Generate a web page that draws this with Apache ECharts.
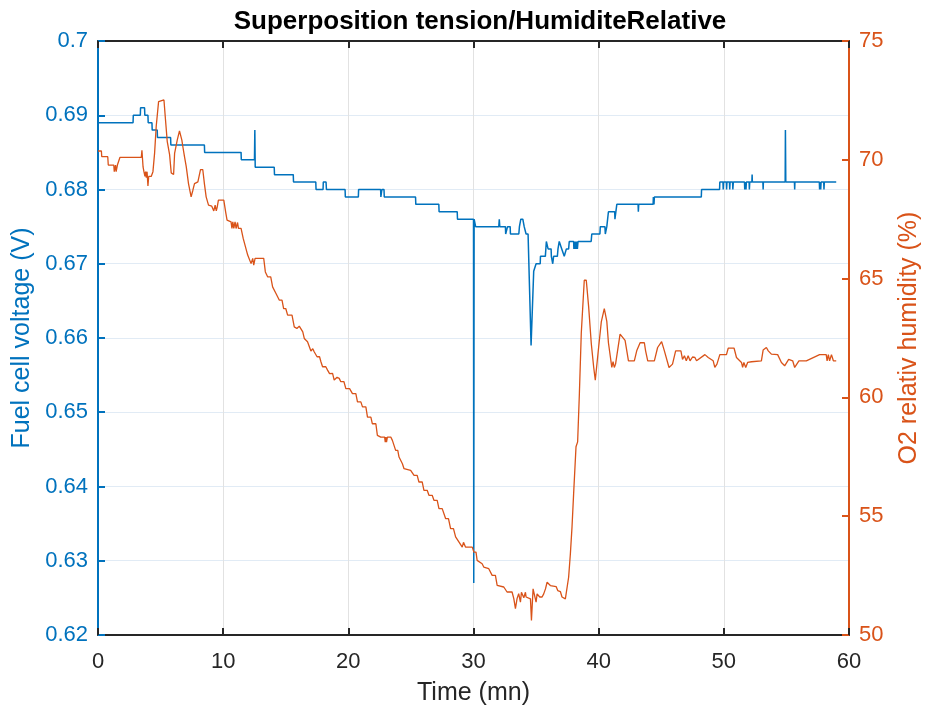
<!DOCTYPE html>
<html>
<head>
<meta charset="utf-8">
<script src="https://cdn.jsdelivr.net/npm/echarts@6/dist/echarts.min.js"></script>
<style>
html,body{margin:0;padding:0;background:#fff;}
#chart{width:930px;height:711px;}
</style>
</head>
<body>
<div id="chart"></div>
<script>
// ---- Data ----
const chartTitle = 'Superposition tension/HumiditeRelative';
const xAxisName = 'Time (mn)';
const leftAxisName = 'Fuel cell voltage (V)';
const rightAxisName = 'O2 relativ humidity (%)';

// Fuel cell voltage (V) vs time (mn)
const voltagePoints = [
[0,0.689],[2.8,0.689],[2.82,0.690],[3.38,0.690],[3.4,0.691],[3.72,0.691],[3.74,0.690],[3.99,0.690],[4.01,0.689],
[4.31,0.689],[4.33,0.688],[4.73,0.688],[4.75,0.687],[5.8,0.687],[5.82,0.686],[8.5,0.686],[8.52,0.685],
[11.43,0.685],[11.45,0.684],[12.5,0.684],[12.53,0.688],[12.56,0.683],[14.08,0.683],[14.1,0.682],[15.6,0.682],
[15.62,0.681],[17.4,0.681],[17.42,0.680],[17.98,0.680],[18.0,0.681],[18.22,0.681],[18.25,0.680],[19.74,0.680],
[19.76,0.679],[20.8,0.679],[20.82,0.680],[22.58,0.680],[22.6,0.679],[22.68,0.680],[22.85,0.680],[22.87,0.679],
[25.37,0.679],[25.39,0.678],[27.23,0.678],[27.25,0.677],[28.7,0.677],[28.72,0.676],[30.0,0.676],[30.02,0.627],
[30.05,0.676],[30.15,0.676],[30.17,0.675],[32.02,0.675],[32.06,0.676],[32.1,0.675],[32.55,0.675],[32.57,0.674],
[32.7,0.674],[32.72,0.675],[32.93,0.675],[32.95,0.674],[33.62,0.674],[33.67,0.675],[33.78,0.676],[33.94,0.676],
[34.05,0.675],[34.15,0.675],[34.2,0.674],[34.36,0.674],[34.6,0.659],[34.81,0.669],[35.0,0.670],[35.33,0.670],
[35.35,0.671],[35.74,0.671],[35.82,0.673],[35.9,0.673],[35.96,0.672],[36.2,0.672],[36.22,0.671],[36.33,0.670],
[36.4,0.671],[36.7,0.671],[36.75,0.672],[36.85,0.673],[37.0,0.673],[37.05,0.672],[37.2,0.672],[37.25,0.671],
[37.38,0.671],[37.42,0.672],[37.6,0.672],[37.65,0.673],[38.0,0.673],[38.02,0.672],[38.06,0.673],[38.1,0.672],
[38.14,0.673],[38.2,0.672],[38.24,0.673],[38.3,0.672],[38.35,0.673],[39.4,0.673],[39.45,0.674],[40.1,0.674],
[40.13,0.675],[40.5,0.675],[40.53,0.674],[40.6,0.674],[40.65,0.675],[40.75,0.675],[40.78,0.677],[41.28,0.677],
[41.3,0.676],[41.4,0.676],[41.45,0.678],[43.15,0.678],[43.17,0.677],[43.2,0.678],[44.35,0.678],[44.37,0.679],
[44.42,0.678],[44.45,0.679],[48.2,0.679],[48.22,0.680],[49.66,0.680],[49.68,0.681],[49.93,0.681],[49.95,0.680],
[49.98,0.681],[50.2,0.681],[50.22,0.680],[50.25,0.681],[50.45,0.681],[50.47,0.680],[50.5,0.681],[50.7,0.681],
[50.72,0.680],[50.76,0.681],[51.65,0.681],[51.67,0.680],[51.7,0.681],[51.75,0.681],[51.77,0.680],[51.8,0.681],
[52.02,0.681],[52.04,0.680],[52.07,0.681],[52.24,0.681],[52.26,0.682],[52.28,0.681],[53.12,0.681],[53.14,0.680],
[53.16,0.681],[54.9,0.681],[54.92,0.688],[54.95,0.681],[55.64,0.681],[55.66,0.680],[55.68,0.681],[57.63,0.681],
[57.65,0.680],[57.68,0.681],[57.72,0.681],[57.74,0.680],[57.77,0.681],[57.98,0.681],[58.0,0.680],[58.03,0.681],
[58.98,0.681]
];

// O2 relative humidity (%) vs time (mn)
const humidityPoints = [
[0,70.37],[0.27,70.37],[0.3,70.13],[0.78,70.13],[0.82,69.78],[1.26,69.78],[1.3,69.5],[1.4,69.78],[1.45,69.5],
[1.55,69.78],[1.7,69.78],[1.75,70.1],[3.46,70.1],[3.51,70.4],[3.6,69.7],[3.67,69.5],[3.75,69.3],[3.8,69.5],
[3.86,69.25],[3.92,69.5],[3.99,68.9],[4.05,69.3],[4.12,69.25],[4.25,69.3],[4.39,69.5],[4.52,70.27],[4.65,71.4],
[4.84,72.45],[4.92,72.52],[5.27,72.52],[5.37,71.83],[5.53,70.78],[5.72,70.22],[5.85,69.45],[6.04,69.38],
[6.12,70.27],[6.33,70.83],[6.51,71.22],[6.7,70.83],[6.78,70.55],[6.91,70.13],[7.05,69.71],[7.23,69.0],
[7.44,68.44],[7.58,68.72],[7.71,69.0],[7.98,69.07],[8.19,69.59],[8.37,69.59],[8.5,69.0],[8.64,68.44],
[8.83,68.09],[9.09,68.05],[9.25,67.85],[9.36,68.09],[9.45,67.85],[9.52,68.0],[9.62,68.3],[10.05,68.3],
[10.2,67.8],[10.31,67.46],[10.63,67.39],[10.7,67.11],[10.77,67.39],[10.85,67.11],[10.95,67.39],[11.03,67.11],
[11.15,67.36],[11.22,67.11],[11.43,67.11],[11.6,66.69],[11.96,65.99],[12.23,65.63],[12.36,65.85],[12.44,65.57],
[12.55,65.85],[13.24,65.85],[13.37,65.28],[13.56,65.07],[13.8,65.07],[13.95,64.65],[14.1,64.65],[14.22,64.37],
[14.35,64.37],[14.49,64.09],[14.7,64.09],[14.83,63.74],[15.0,63.74],[15.15,63.46],[15.5,63.46],[15.68,62.97],
[15.89,62.9],[16.08,63.0],[16.36,62.76],[16.48,62.48],[16.6,62.48],[16.74,62.34],[17.01,61.95],
[17.16,62.05],[17.27,61.92],[17.4,62.0],[17.5,61.71],[17.7,61.71],[17.81,61.5],[17.94,61.29],[18.2,61.29],[18.34,61.15],[18.5,61.0],
[18.74,61.01],[18.87,60.73],[19.1,60.85],[19.27,60.8],[19.4,60.66],[19.65,60.66],[19.8,60.37],[20.1,60.37],[20.33,60.16],[20.6,60.16],[20.73,59.81],
[21.0,59.81],[21.13,59.6],[21.4,59.6],[21.53,59.17],[21.8,59.17],[21.92,58.89],[22.2,58.89],[22.32,58.4],[22.59,58.33],[22.9,58.33],[22.95,58.12],[23.0,58.33],
[23.05,58.12],[23.12,58.33],[23.39,58.33],[23.52,58.19],[23.78,57.77],[23.95,57.77],[24.05,57.49],[24.2,57.49],[24.32,57.21],[24.45,57.0],
[24.98,56.93],[25.1,56.93],[25.25,56.72],[25.5,56.72],[25.64,56.44],[25.9,56.44],[26.04,56.09],[26.3,56.09],[26.44,55.88],[26.7,55.88],[26.84,55.67],[27.1,55.67],[27.24,55.32],[27.5,55.32],[27.77,54.9],
[28.0,54.9],[28.17,54.48],[28.4,54.48],[28.57,54.13],[28.83,53.92],[29.1,53.7],[29.2,53.9],[29.36,53.7],[29.63,53.7],[29.9,53.7],[30.03,53.49],
[30.2,53.49],[30.29,53.14],[30.69,53.0],[30.82,52.86],[31.22,52.79],[31.35,52.79],[31.49,52.51],[31.75,52.51],[31.89,52.09],[32.42,52.02],[32.55,52.02],[32.68,51.81],
[33.08,51.81],[33.22,51.53],[33.35,51.11],[33.48,51.53],[33.61,51.74],[33.75,51.38],[33.83,51.8],[33.94,51.73],
[34.02,51.57],[34.15,51.8],[34.2,51.6],[34.28,51.52],[34.55,51.52],[34.63,50.61],[34.76,51.94],[34.9,51.87],
[35.0,51.38],[35.08,51.73],[35.21,51.8],[35.29,51.6],[35.48,51.6],[35.61,51.73],[35.75,51.94],[35.88,52.22],
[36.01,52.27],[36.14,52.08],[36.6,52.04],[36.73,51.87],[36.94,51.83],[37.07,51.6],[37.34,51.52],[37.47,51.57],
[37.6,52.43],[37.74,53.42],[37.87,54.54],[38.0,55.95],[38.19,57.92],[38.32,58.13],[38.46,60.16],[38.61,62.69],
[38.85,64.93],[39.01,64.93],[39.2,63.81],[39.41,62.27],[39.6,61.28],[39.73,60.72],[40.0,62.12],[40.21,63.18],
[40.45,63.74],[40.65,63.2],[40.78,62.3],[41.05,61.26],[41.15,61.5],[41.25,61.26],[41.35,61.4],[41.45,61.35],
[41.71,62.66],[41.85,62.6],[42.11,62.4],[42.38,61.54],[42.85,61.54],[43.04,61.96],[43.31,62.3],[43.65,62.3],
[43.75,61.96],[43.92,61.54],[44.45,61.54],[44.71,62.1],[45.03,62.35],[45.25,61.96],[45.4,61.96],[45.62,61.26],
[45.9,61.4],[46.15,61.96],[46.57,61.96],[46.7,61.6],[46.85,61.75],[47.0,61.54],[47.15,61.75],[47.3,61.54],
[47.5,61.7],[47.69,61.68],[47.82,61.54],[48.49,61.8],[48.75,61.68],[49.15,61.54],[49.28,61.26],[49.45,61.4],
[49.68,61.8],[50.21,61.8],[50.35,62.07],[50.82,62.07],[51.01,61.68],[51.41,61.47],[51.5,61.26],[51.6,61.47],
[51.75,61.26],[51.9,61.47],[52.21,61.5],[52.34,61.54],[53.0,61.54],[53.14,61.99],[53.4,62.1],[53.55,61.96],
[53.8,61.82],[54.3,61.8],[54.6,61.47],[54.86,61.33],[55.18,61.6],[55.5,61.54],[55.66,61.26],[56.0,61.54],
[56.59,61.54],[57.65,61.8],[58.18,61.8],[58.25,61.54],[58.35,61.8],[58.45,61.54],[58.6,61.8],[58.75,61.54],
[58.98,61.54]
];

// Axis ranges / ticks
const xRange = [0, 60, 10];
const leftRange = [0.62, 0.70, 0.01];
const rightRange = [50, 75, 5];

// ---- Styles ----
const BLUE = '#0072BD', ORANGE = '#D95319', DARK = '#262626';
const FONT = '"Liberation Sans", Arial, sans-serif';

const chart = echarts.init(document.getElementById('chart'), null, {renderer: 'canvas'});
const option = {
  animation: false,
  backgroundColor: '#ffffff',
  title: {
    text: chartTitle,
    left: 475, top: 4, textAlign: 'center',
    textStyle: {fontFamily: FONT, fontSize: 26, fontWeight: 'bold', color: '#000'}
  },
  grid: {left: 98, right: 78, top: 41, bottom: 76, containLabel: false},
  xAxis: [{
    type: 'value', min: xRange[0], max: xRange[1], interval: xRange[2], position: 'bottom',
    name: xAxisName, nameLocation: 'middle', nameGap: 46,
    nameTextStyle: {fontFamily: FONT, fontSize: 25, color: DARK},
    axisLine: {show: true, onZero: false, lineStyle: {color: DARK, width: 2}},
    axisTick: {show: true, inside: true, length: 7, lineStyle: {color: DARK, width: 2}},
    axisLabel: {fontFamily: FONT, fontSize: 22, color: DARK, margin: 16},
    splitLine: {show: true, lineStyle: {color: '#e2e2e2', width: 1}}
  }, {
    type: 'value', min: xRange[0], max: xRange[1], interval: xRange[2], position: 'top',
    axisLine: {show: true, onZero: false, lineStyle: {color: DARK, width: 2}},
    axisTick: {show: true, inside: true, length: 7, lineStyle: {color: DARK, width: 2}},
    axisLabel: {show: false}, splitLine: {show: false}
  }],
  yAxis: [{
    type: 'value', min: leftRange[0], max: leftRange[1], interval: leftRange[2], position: 'left',
    name: leftAxisName, nameLocation: 'middle', nameGap: 63, nameRotate: 90,
    nameTextStyle: {fontFamily: FONT, fontSize: 25, color: BLUE},
    axisLine: {show: true, onZero: false, lineStyle: {color: BLUE, width: 2}},
    axisTick: {show: true, inside: true, length: 7, lineStyle: {color: BLUE, width: 2}},
    axisLabel: {fontFamily: FONT, fontSize: 22, color: BLUE, margin: 10,
      formatter: v => String(parseFloat(v.toFixed(3)))},
    splitLine: {show: true, lineStyle: {color: '#e1ebf5', width: 1}}
  }, {
    type: 'value', min: rightRange[0], max: rightRange[1], interval: rightRange[2], position: 'right',
    name: rightAxisName, nameLocation: 'middle', nameGap: 48, nameRotate: 90,
    nameTextStyle: {fontFamily: FONT, fontSize: 25, color: ORANGE},
    axisLine: {show: true, onZero: false, lineStyle: {color: ORANGE, width: 2}},
    axisTick: {show: true, inside: true, length: 7, lineStyle: {color: ORANGE, width: 2}},
    axisLabel: {fontFamily: FONT, fontSize: 22, color: ORANGE, margin: 10},
    splitLine: {show: false}
  }],
  series: [{
    type: 'line', name: 'Voltage', xAxisIndex: 0, yAxisIndex: 0,
    data: voltagePoints, showSymbol: false, symbol: 'none',
    lineStyle: {color: BLUE, width: 1.5}, itemStyle: {color: BLUE}, z: 2
  }, {
    type: 'line', name: 'Humidity', xAxisIndex: 0, yAxisIndex: 1,
    data: humidityPoints, showSymbol: false, symbol: 'none',
    lineStyle: {color: ORANGE, width: 1.3}, itemStyle: {color: ORANGE}, z: 3
  }]
};
chart.setOption(option);
</script>
</body>
</html>
